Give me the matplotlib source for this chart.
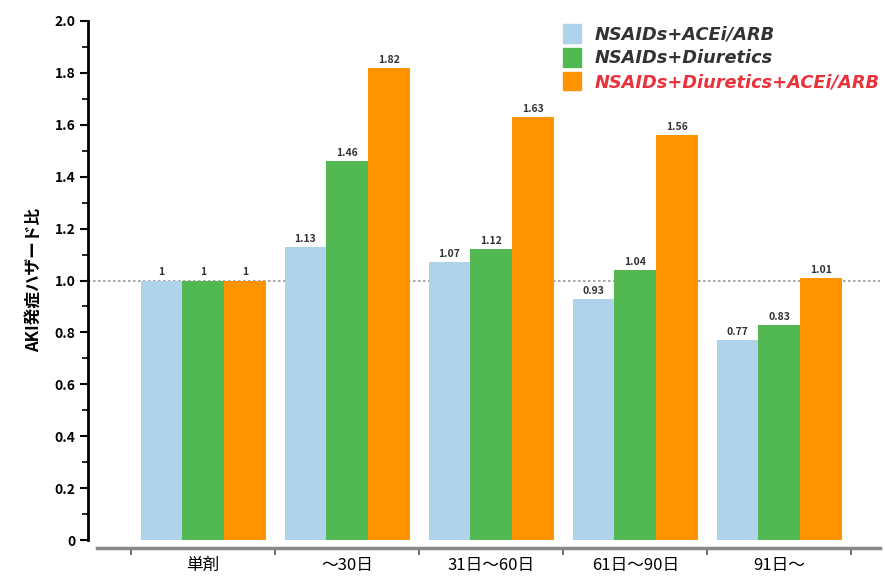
import numpy as np
import matplotlib
matplotlib.use('Agg')
import matplotlib.pyplot as plt
from matplotlib.patches import Patch
from matplotlib.ticker import MultipleLocator, FixedLocator, NullFormatter

plt.rcParams['font.family'] = ['Noto Sans CJK JP', 'DejaVu Sans']

categories = ['単剤', '～30日', '31日～60日', '61日～90日', '91日～']
series_names = ['NSAIDs+ACEi/ARB', 'NSAIDs+Diuretics', 'NSAIDs+Diuretics+ACEi/ARB']
ace_arb = [1.00, 1.13, 1.07, 0.93, 0.77]
diuretics = [1.00, 1.46, 1.12, 1.04, 0.83]
triple = [1.00, 1.82, 1.63, 1.56, 1.01]
bar_labels = [
    ['1', '1.13', '1.07', '0.93', '0.77'],
    ['1', '1.46', '1.12', '1.04', '0.83'],
    ['1', '1.82', '1.63', '1.56', '1.01'],
]
colors = ['#aed3ea', '#52b852', '#ff9400']

fig = plt.figure(figsize=(8.85, 5.8), dpi=100)
ax = fig.add_axes([88 / 885, 1 - 540 / 580, (880 - 88) / 885, (540 - 21) / 580])

x = np.arange(len(categories))
w = 0.29
for k, vals in enumerate([ace_arb, diuretics, triple]):
    bars = ax.bar(x + (k - 1) * w, vals, width=w, color=colors[k], zorder=2)
    for b, lab in zip(bars, bar_labels[k]):
        ax.text(b.get_x() + b.get_width() / 2, b.get_height() + 0.012, lab,
                ha='center', va='bottom', fontsize=7.5, fontweight='bold', color='#333333', zorder=3)

ax.axhline(1.0, color='#999999', lw=1.2, ls=(0, (1.5, 1.5)), zorder=1)

ax.set_xlim(-0.8, 4.7)
ax.set_ylim(0, 2.0)

# y axis
ax.yaxis.set_minor_locator(MultipleLocator(0.1))
ax.set_yticks(np.arange(0, 2.01, 0.2))
ax.set_yticklabels(['0'] + ['%.1f' % v for v in np.arange(0.2, 2.01, 0.2)], fontweight='bold', fontsize=10)
ax.tick_params(axis='y', which='major', length=6, width=1.5, direction='out', pad=3)
ax.tick_params(axis='y', which='minor', length=4, width=1.2, direction='out')
ax.set_ylabel('AKI発症ハザード比', fontsize=12, fontweight='bold', labelpad=8)

# x axis: ticks at group boundaries, labels at centers
ax.xaxis.set_major_locator(FixedLocator(np.arange(-0.5, 5.0, 1.0)))
ax.xaxis.set_major_formatter(NullFormatter())
ax.xaxis.set_minor_locator(FixedLocator(x))
ax.set_xticks(x, categories, minor=True)
ax.tick_params(axis='x', which='major', length=5, width=1.2, direction='out', color='#555555')
ax.tick_params(axis='x', which='minor', length=0, pad=6, labelsize=12)
for lab in ax.get_xticklabels(minor=True):
    lab.set_fontweight('bold')

for s in ['top', 'right']:
    ax.spines[s].set_visible(False)
ax.spines['left'].set_linewidth(2)
ax.spines['bottom'].set_position(('outward', 6))
ax.spines['bottom'].set_bounds(-0.74, 4.7)
ax.spines['bottom'].set_color('#888888')
ax.spines['bottom'].set_linewidth(2.5)

handles = [Patch(color=c) for c in colors]
leg = ax.legend(handles, series_names, loc='upper right', bbox_to_anchor=(1.02, 1.025),
                frameon=False, handlelength=1.0, handleheight=1.25, handletextpad=0.8,
                labelspacing=0.25, prop={'family': 'DejaVu Sans', 'weight': 'bold',
                                         'style': 'italic', 'size': 12.8})
leg.get_texts()[2].set_color('#e8323c')
for t in leg.get_texts()[:2]:
    t.set_color('#333333')

fig.savefig('out.png', dpi=100)
